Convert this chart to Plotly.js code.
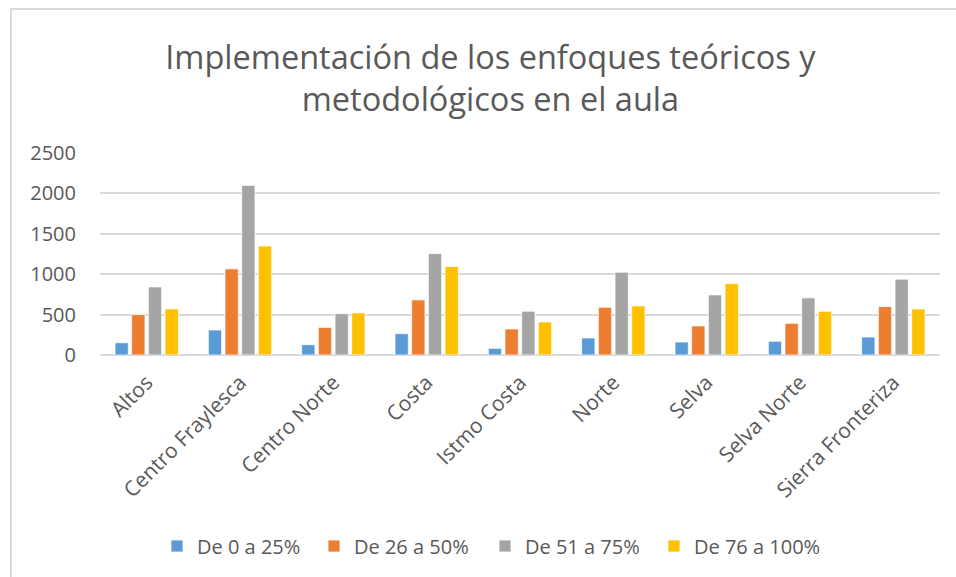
<!DOCTYPE html>
<html>
<head>
<meta charset="utf-8">
<script src="https://cdn.plot.ly/plotly-3.0.1.min.js"></script>
<style>
  html, body { margin: 0; padding: 0; background: #fff; }
  #wrap { position: relative; width: 956px; height: 577px; overflow: hidden; }
  #chart { width: 956px; height: 577px; }
  #frame { position: absolute; left: 10px; top: 8px; width: 960px; height: 580px;
           border-left: 2px solid #d9d9d9; border-top: 2px solid #d9d9d9; pointer-events: none; }
</style>
</head>
<body>
<div id="wrap">
  <div id="chart"></div>
  <div id="frame"></div>
</div>
<script>
const categories = ["Altos", "Centro Fraylesca", "Centro Norte", "Costa", "Istmo Costa", "Norte", "Selva", "Selva Norte", "Sierra Fronteriza"];
const seriesNames = ["De 0 a 25%", "De 26 a 50%", "De 51 a 75%", "De 76 a 100%"];
const de0a25   = [152, 310, 128, 264, 83, 211, 161, 170, 223];
const de26a50  = [500, 1066, 343, 682, 322, 591, 360, 393, 599];
const de51a75  = [843, 2100, 512, 1256, 542, 1025, 744, 707, 939];
const de76a100 = [570, 1350, 521, 1095, 409, 608, 884, 542, 570];
const yTicks = [0, 500, 1000, 1500, 2000, 2500];

const colors = ["#5b9bd5", "#ed7d31", "#a5a5a5", "#ffc000"];
const values = [de0a25, de26a50, de51a75, de76a100];
const legendIds = ["legend", "legend2", "legend3", "legend4"];

const traces = values.map((v, i) => ({
  type: "bar",
  name: seriesNames[i],
  x: categories,
  y: v,
  legend: legendIds[i],
  marker: { color: colors[i], line: { color: "#ffffff", width: 0.8 } },
  hoverinfo: "x+y+name"
}));

const fontFam = "'Open Sans', sans-serif";
const legendX = [157, 314, 485, 654];

const layout = {
  width: 956, height: 577,
  margin: { l: 100, r: 16, t: 153, b: 222 },
  paper_bgcolor: "#ffffff",
  plot_bgcolor: "#ffffff",
  font: { family: fontFam, color: "#595959", size: 20 },
  title: {
    text: "Implementación de los enfoques teóricos y<br>metodológicos en el aula",
    font: { family: fontFam, size: 32.5, color: "#595959" },
    x: 0.513, xanchor: "center",
    y: 1 - 69 / 577, yanchor: "middle", yref: "container"
  },
  barmode: "group",
  bargap: 0.285,
  bargroupgap: 0.2,
  showlegend: true,
  xaxis: {
    type: "category",
    tickangle: -45,
    tickfont: { family: fontFam, size: 21, color: "#595959" },
    showgrid: false,
    showline: false,
    zeroline: false,
    ticks: "",
    ticklabelstandoff: 10
  },
  yaxis: {
    range: [0, 2500],
    tickvals: yTicks,
    ticktext: yTicks.map(String),
    tickfont: { family: fontFam, size: 20, color: "#595959" },
    showgrid: true,
    gridcolor: "#d9d9d9",
    gridwidth: 1.5,
    zeroline: true,
    zerolinecolor: "#d9d9d9",
    zerolinewidth: 1.5,
    showline: false,
    ticks: "",
    ticklabelstandoff: 23
  }
};

legendIds.forEach((id, i) => {
  layout[id] = {
    x: legendX[i] / 956, xref: "container", xanchor: "left",
    y: 1 - 546 / 577, yref: "container", yanchor: "middle",
    orientation: "h",
    font: { family: fontFam, size: 20, color: "#595959" },
    bgcolor: "rgba(0,0,0,0)",
    borderwidth: 0
  };
});

Plotly.newPlot("chart", traces, layout, { displayModeBar: false, staticPlot: false });
</script>
</body>
</html>
